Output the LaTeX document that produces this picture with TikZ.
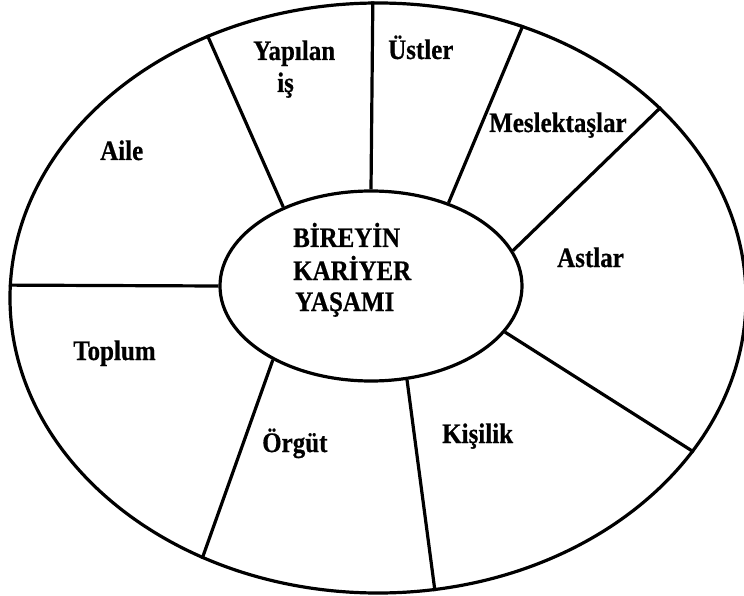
\documentclass[tikz,border=0pt]{standalone}
\usepackage{fontspec}
\setmainfont{Liberation Serif}
\newfontfamily\lblfont{Liberation Serif}[BoldFeatures={FakeBold=0.6}]
\usetikzlibrary{shapes.geometric}
\newcommand{\tall}[1]{\scalebox{1}[1.13]{#1}}
\begin{document}
\begin{tikzpicture}[x=1pt,y=-1pt,
  lbl/.style={font=\lblfont\fontsize{25}{30}\selectfont\bfseries, inner sep=0pt, anchor=base west},
  divider/.style={line width=3.2pt},
  ring/.style={ellipse, draw, line width=3.2pt, inner sep=0pt}]
\useasboundingbox (0,0) rectangle (744,596);
% outer rim and inner ellipse
\node[ring, minimum width=736pt, minimum height=590pt] (rim) at (378,298) {};
\node[ring, minimum width=302pt, minimum height=190pt] (c) at (371,286) {};
% dividers
\draw[divider] (rim.178.4) -- (c.180);
\draw[divider] (rim.123.1) -- (c.138.4);
\draw[divider] (rim.91.2) -- (c.90);
\draw[divider] (rim.62.85) -- (c.47.2);
\draw[divider] (rim.34.4) -- (c.14.6);
\draw[divider] (rim.-26.3) -- (c.-19.3);
\draw[divider] (rim.-79.3) -- (c.-69.9);
\draw[divider] (rim.236.4) -- (c.217.1);
% labels
\node[lbl] (yap) at (253,60) {\tall{Yapılan}};
\node[lbl] (is) at (277,92) {\tall{iş}};
\node[lbl] (ust) at (388,59) {\tall{Üstler}};
\node[lbl] (mes) at (489,132) {\tall{Meslektaşlar}};
\node[lbl] (aile) at (100,160) {\tall{Aile}};
\node[lbl] (ast) at (557,267) {\tall{Astlar}};
\node[lbl] (top) at (73,360) {\tall{Toplum}};
\node[lbl] (org) at (262,452) {\tall{Örgüt}};
\node[lbl] (kis) at (442,443) {\tall{Kişilik}};
\node[lbl] (b1) at (293,247) {\tall{BİREYİN}};
\node[lbl] (b2) at (293,280) {\tall{KARİYER}};
\node[lbl] (b3) at (295,311) {\tall{YAŞAMI}};
\end{tikzpicture}
\end{document}
